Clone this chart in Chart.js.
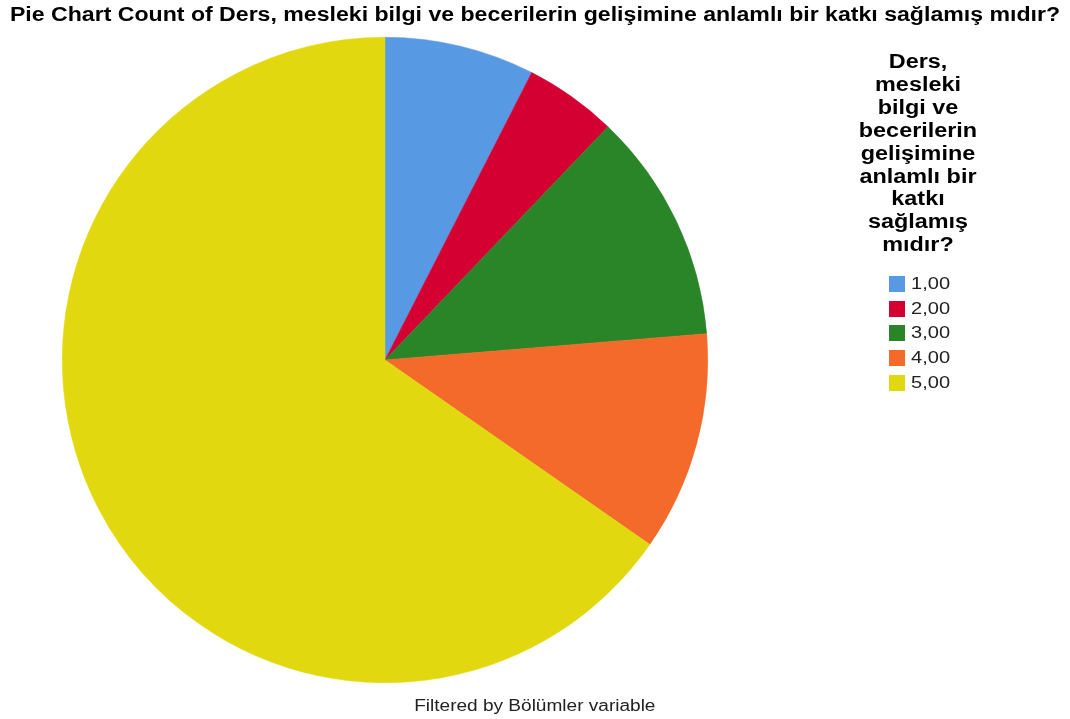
<!DOCTYPE html>
<html>
<head>
<meta charset="utf-8">
<script src="https://cdn.jsdelivr.net/npm/chart.js@4.4.1/dist/chart.umd.min.js"></script>
<style>
  html, body { margin: 0; padding: 0; background: #fff; }
  #wrap { position: relative; width: 1070px; height: 719px; overflow: hidden; font-family: "Liberation Sans", Arial, sans-serif; }
  #chart { position: absolute; left: 0; top: 0; }
  #title { position: absolute; left: 0; width: 1070px; top: 2px; text-align: center; font-weight: bold; font-size: 20px; line-height: 24px; color: #000; white-space: nowrap; transform: scaleX(1.155); transform-origin: 535px 0; }
  #legendTitle { position: absolute; left: 838px; width: 160px; top: 50px; text-align: center; font-weight: bold; font-size: 20px; line-height: 22.9px; color: #000; transform: scaleX(1.17); transform-origin: 80px 0; }
  #legendItems { position: absolute; left: 889px; top: 272px; }
  .item { height: 24.6px; display: flex; align-items: center; font-size: 17px; color: #222; }
  .box { width: 16px; height: 16px; margin-right: 6px; }
  .lbl { display: inline-block; transform: scaleX(1.18); transform-origin: 0 50%; }
  #footer { position: absolute; left: 0; width: 1070px; top: 697px; text-align: center; font-size: 16px; color: #222; transform: scaleX(1.19); transform-origin: 536px 0; }
</style>
</head>
<body>
<div id="wrap">
  <canvas id="chart" width="1070" height="719"></canvas>
  <div id="title"></div>
  <div id="legendTitle"></div>
  <div id="legendItems"></div>
  <div id="footer"></div>
</div>
<script>
// Answer categories and their counts
const categories = ["1,00", "2,00", "3,00", "4,00", "5,00"];
const counts = [13, 8, 20, 19, 113];
const sliceColors = ["#5799e3", "#d50032", "#2a8528", "#f36a2b", "#e2d810"];

const titleText = "Pie Chart Count of Ders, mesleki bilgi ve becerilerin gelişimine anlamlı bir katkı sağlamış mıdır?";
const legendTitleLines = ["Ders,", "mesleki", "bilgi ve", "becerilerin", "gelişimine", "anlamlı bir", "katkı", "sağlamış", "mıdır?"];
const footerText = "Filtered by Bölümler variable";

document.getElementById("title").textContent = titleText;
document.getElementById("footer").textContent = footerText;
document.getElementById("legendTitle").innerHTML = legendTitleLines.map(l => "<div>" + l + "</div>").join("");
const items = document.getElementById("legendItems");
categories.forEach((c, i) => {
  const row = document.createElement("div");
  row.className = "item";
  const b = document.createElement("div");
  b.className = "box";
  b.style.background = sliceColors[i];
  const t = document.createElement("span");
  t.className = "lbl";
  t.textContent = c;
  row.appendChild(b);
  row.appendChild(t);
  items.appendChild(row);
});

new Chart(document.getElementById("chart"), {
  type: "pie",
  data: {
    labels: categories,
    datasets: [{
      data: counts,
      backgroundColor: sliceColors,
      borderColor: sliceColors,
      borderWidth: 0.5
    }]
  },
  options: {
    responsive: false,
    animation: false,
    layout: { padding: { left: 62, right: 362, top: 37, bottom: 36 } },
    plugins: {
      legend: { display: false },
      title: { display: false },
      tooltip: { enabled: false }
    }
  }
});
</script>
</body>
</html>
